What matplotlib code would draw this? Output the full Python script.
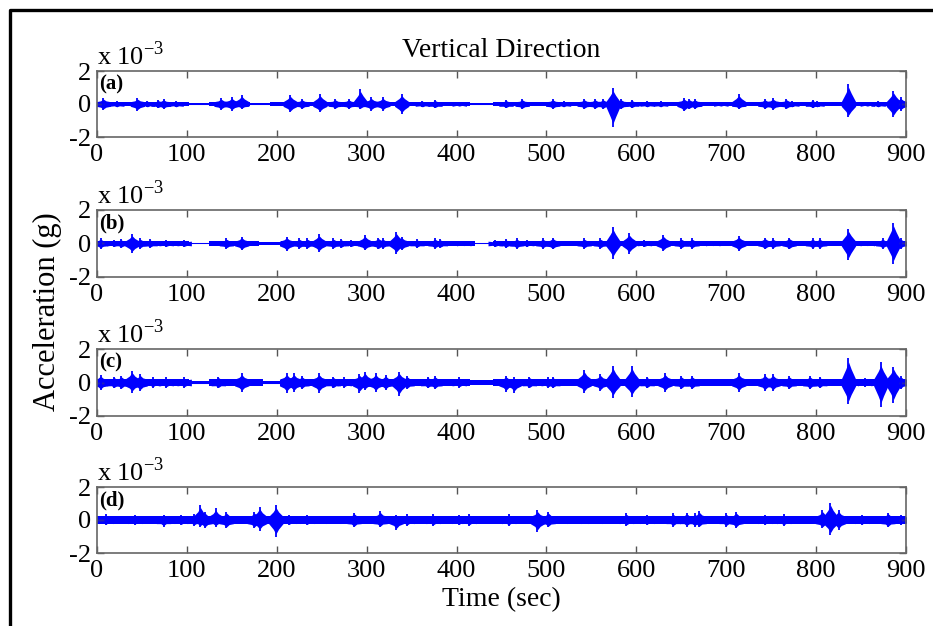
import numpy as np
import matplotlib
matplotlib.use("Agg")
import matplotlib.pyplot as plt
from matplotlib.lines import Line2D

plt.rcParams["font.family"] = ["Liberation Serif", "DejaVu Serif"]
plt.rcParams["mathtext.fontset"] = "custom"
plt.rcParams["mathtext.rm"] = "Liberation Serif"
plt.rcParams["axes.unicode_minus"] = False

# Burst envelopes (time in s, positive / negative peak in 1e-3 g)
a_t = [7, 22, 45, 56, 68, 74, 88, 138, 150, 161, 215, 228, 248, 265, 280, 293, 305, 318,
       339, 362, 376, 403, 455, 473, 507, 519, 542, 554, 563, 574, 583, 595, 612, 627,
       653, 659, 665, 694, 714, 743, 752, 767, 773, 796, 801, 836, 857, 869, 886, 894]
a_up = [0.35, 0.2, 0.35, 0.2, 0.25, 0.3, 0.2, 0.35, 0.4, 0.55, 0.55, 0.3, 0.6, 0.3, 0.3, 0.9, 0.4, 0.4,
        0.6, 0.2, 0.25, 0.15, 0.25, 0.3, 0.3, 0.2, 0.3, 0.3, 0.3, 0.95, 0.3, 0.25, 0.2, 0.2,
        0.35, 0.3, 0.3, 0.15, 0.6, 0.3, 0.35, 0.3, 0.2, 0.25, 0.2, 1.2, 0.15, 0.2, 0.8, 0.4]
a_dn = [0.35, 0.2, 0.4, 0.2, 0.25, 0.3, 0.2, 0.35, 0.4, 0.3, 0.5, 0.3, 0.5, 0.3, 0.3, 0.3, 0.4, 0.4,
        0.6, 0.2, 0.25, 0.15, 0.25, 0.3, 0.3, 0.2, 0.3, 0.3, 0.3, 1.4, 0.3, 0.25, 0.2, 0.2,
        0.45, 0.3, 0.3, 0.15, 0.3, 0.3, 0.35, 0.3, 0.2, 0.25, 0.2, 0.8, 0.15, 0.2, 0.8, 0.4]

b_t = [4, 19, 27, 39, 48, 59, 77, 97, 144, 161, 211, 225, 234, 247, 263, 272, 283, 298,
       313, 318, 333, 339, 356, 376, 382, 408, 443, 455, 467, 478, 496, 507, 542, 560,
       574, 592, 609, 630, 650, 662, 685, 714, 743, 752, 770, 796, 804, 836, 857, 874, 886, 894]
b_up = [0.3, 0.2, 0.25, 0.55, 0.3, 0.25, 0.2, 0.2, 0.3, 0.4, 0.4, 0.3, 0.3, 0.55, 0.3, 0.25, 0.2, 0.5,
        0.35, 0.3, 0.7, 0.4, 0.25, 0.3, 0.25, 0.15, 0.2, 0.25, 0.3, 0.2, 0.3, 0.35, 0.3, 0.3,
        1.0, 0.6, 0.2, 0.5, 0.3, 0.3, 0.15, 0.45, 0.35, 0.3, 0.35, 0.3, 0.3, 0.85, 0.15, 0.3, 1.25, 0.3]
b_dn = [0.3, 0.2, 0.25, 0.55, 0.3, 0.25, 0.2, 0.2, 0.3, 0.4, 0.45, 0.3, 0.3, 0.5, 0.3, 0.25, 0.2, 0.4,
        0.35, 0.3, 0.6, 0.4, 0.25, 0.3, 0.25, 0.15, 0.2, 0.25, 0.3, 0.2, 0.3, 0.35, 0.3, 0.3,
        0.9, 0.6, 0.2, 0.45, 0.3, 0.3, 0.15, 0.45, 0.35, 0.3, 0.35, 0.3, 0.3, 1.0, 0.15, 0.3, 1.2, 0.3]

c_t = [4, 19, 27, 39, 48, 62, 77, 97, 135, 161, 211, 219, 228, 247, 263, 275, 292, 298,
       310, 321, 336, 345, 368, 376, 403, 455, 464, 481, 502, 507, 542, 560, 574, 595,
       612, 632, 650, 662, 714, 743, 752, 770, 793, 804, 836, 854, 872, 886, 894]
c_up = [0.45, 0.35, 0.4, 0.7, 0.5, 0.3, 0.3, 0.3, 0.35, 0.55, 0.55, 0.55, 0.4, 0.55, 0.35, 0.3, 0.5, 0.65,
        0.55, 0.45, 0.65, 0.4, 0.35, 0.4, 0.3, 0.4, 0.3, 0.35, 0.3, 0.35, 0.75, 0.5, 1.0, 1.0,
        0.35, 0.55, 0.4, 0.4, 0.55, 0.5, 0.5, 0.4, 0.4, 0.35, 1.45, 0.25, 1.2, 0.95, 0.4]
c_dn = [0.45, 0.35, 0.4, 0.6, 0.5, 0.3, 0.3, 0.3, 0.35, 0.55, 0.6, 0.55, 0.4, 0.6, 0.35, 0.3, 0.6, 0.45,
        0.55, 0.45, 0.8, 0.4, 0.35, 0.4, 0.3, 0.55, 0.6, 0.35, 0.3, 0.35, 0.6, 0.5, 0.9, 0.85,
        0.35, 0.55, 0.4, 0.4, 0.55, 0.5, 0.5, 0.4, 0.4, 0.35, 1.3, 0.25, 1.45, 1.2, 0.4]

d_t = [10, 42, 74, 94, 108, 115, 120, 132, 144, 175, 181, 199, 214, 234, 263, 286, 315, 333,
       345, 374, 403, 414, 458, 490, 502, 531, 554, 589, 612, 641, 656, 665, 670, 700, 711,
       743, 764, 807, 816, 825, 851, 880, 894]
d_up = [0.35, 0.3, 0.3, 0.3, 0.35, 0.9, 0.5, 0.7, 0.5, 0.5, 0.8, 0.9, 0.3, 0.3, 0.25, 0.45, 0.55, 0.3,
        0.35, 0.35, 0.3, 0.35, 0.35, 0.6, 0.5, 0.25, 0.25, 0.4, 0.3, 0.4, 0.45, 0.4, 0.55, 0.4, 0.5,
        0.3, 0.35, 0.6, 1.05, 0.6, 0.3, 0.45, 0.3]
d_dn = [0.3, 0.3, 0.4, 0.3, 0.35, 0.4, 0.5, 0.4, 0.5, 0.5, 0.65, 1.0, 0.3, 0.3, 0.25, 0.45, 0.45, 0.6,
        0.35, 0.35, 0.3, 0.35, 0.35, 0.7, 0.45, 0.25, 0.25, 0.35, 0.3, 0.4, 0.4, 0.4, 0.45, 0.4, 0.5,
        0.3, 0.35, 0.5, 0.9, 0.6, 0.3, 0.45, 0.3]

# Background noise level between bursts (step segments)
a_seg_t = [0, 102, 125, 170, 193, 415, 440, 900]
a_seg_amp = [0.14, 0.04, 0.14, 0.05, 0.14, 0.04, 0.14, 0.14]
b_seg_t = [0, 102, 125, 180, 205, 420, 440, 900]
b_seg_amp = [0.14, 0.04, 0.14, 0.06, 0.14, 0.05, 0.14, 0.14]
c_seg_t = [0, 102, 125, 185, 205, 415, 440, 900]
c_seg_amp = [0.2, 0.07, 0.2, 0.1, 0.2, 0.12, 0.2, 0.2]
d_seg_t = [0, 900]
d_seg_amp = [0.22, 0.22]

panels = [
    ("(a)", a_t, a_up, a_dn, a_seg_t, a_seg_amp),
    ("(b)", b_t, b_up, b_dn, b_seg_t, b_seg_amp),
    ("(c)", c_t, c_up, c_dn, c_seg_t, c_seg_amp),
    ("(d)", d_t, d_up, d_dn, d_seg_t, d_seg_amp),
]

xticks = [0, 100, 200, 300, 400, 500, 600, 700, 800, 900]
yticks = [-2, 0, 2]

W, H = 933, 626
fig = plt.figure(figsize=(W / 100, H / 100), dpi=100)

# axes boxes in pixels: left, top, right, bottom
boxes = [(97, 71, 906, 137), (97, 210, 906, 277), (97, 349, 906, 416), (97, 487, 906, 553)]
blue = "#0000ff"
half_w = 8.0

for (label, t, up, dn, seg_t, seg_amp), (l, tp, r, bt) in zip(panels, boxes):
    ax = fig.add_axes([l / W, 1 - bt / H, (r - l) / W, (bt - tp) / H])
    seg_t = np.array(seg_t, dtype=float)
    seg_amp = np.array(seg_amp)
    ax.fill_between(seg_t, -seg_amp, seg_amp, step="post", color=blue, lw=0)
    ax.axhline(0, color=blue, lw=0.8, alpha=0.6)
    base = seg_amp[0]
    for ti, u, d in zip(t, up, dn):
        # spindle-shaped burst around each peak
        ax.fill_between([ti - half_w, ti - 3, ti - 1, ti, ti + 1, ti + 3, ti + half_w],
                        [-base, -d * 0.55, -d * 0.75, -d * 0.85, -d * 0.75, -d * 0.55, -base],
                        [base, u * 0.55, u * 0.75, u * 0.85, u * 0.75, u * 0.55, base],
                        color=blue, lw=0)
        ax.vlines(ti, -d, u, color=blue, lw=1.3)

    ax.set_xlim(0, 900)
    ax.set_ylim(-2, 2)
    ax.set_xticks(xticks)
    ax.set_yticks(yticks)
    ax.set_yticklabels([str(v) for v in yticks])
    ax.tick_params(direction="in", top=True, right=True, length=5, width=1,
                   color="#555555", labelsize=19, pad=4)
    ax.tick_params(axis="x", pad=5)
    for s in ax.spines.values():
        s.set_color("#666666")
        s.set_linewidth(1.2)
    ax.text(0.003, 0.95, label, transform=ax.transAxes, fontsize=15,
            fontweight="bold", va="top", ha="left")
    ax.text(0.0, 1.02, r"x 10$^{\mathrm{-3}}$", transform=ax.transAxes,
            fontsize=19, va="bottom", ha="left")
    if label == "(a)":
        ax.set_title("Vertical Direction", fontsize=20, pad=10)
    if label == "(d)":
        ax.set_xlabel("Time (sec)", fontsize=20, labelpad=4)

fig.text(47 / W, 1 - 312 / H, "Acceleration (g)", rotation=90, fontsize=22,
         ha="center", va="center")

# outer frame on the left and top
fx = 10 / W
fy = 1 - 10 / H
fig.add_artist(Line2D([fx, fx, 1.0], [0.0, fy, fy], color="black", lw=2.4,
                      transform=fig.transFigure))

fig.savefig("out.png", dpi=100)
